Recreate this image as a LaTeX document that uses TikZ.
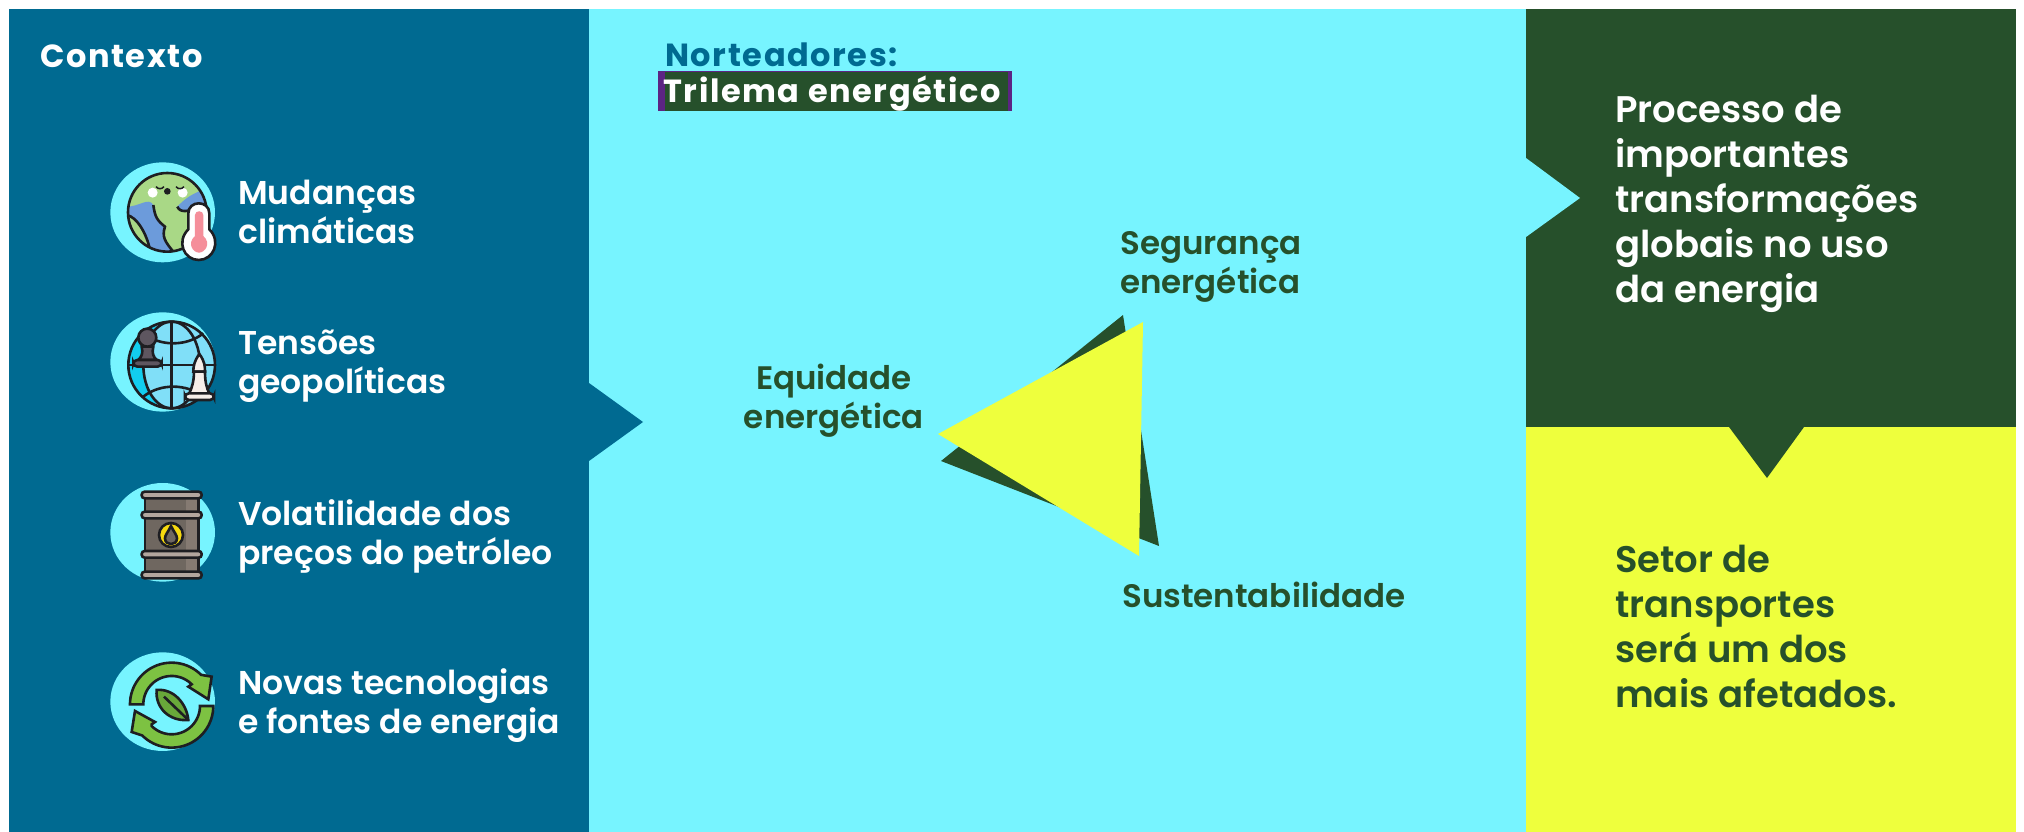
\documentclass[tikz,border=0pt]{standalone}
\usepackage{fontspec}
\setmainfont{Poppins}[UprightFont=* SemiBold,BoldFont=* Bold]
\definecolor{petrol}{HTML}{006A91}
\definecolor{skycyan}{HTML}{77F4FF}
\definecolor{forest}{HTML}{26502B}
\definecolor{lime}{HTML}{EEFF3D}
\definecolor{violet}{HTML}{5C2483}
\definecolor{ink}{HTML}{1E1E22}
\definecolor{earthgreen}{HTML}{A9D886}
\definecolor{earthblue}{HTML}{6C9BDB}
\definecolor{fever}{HTML}{F58E9A}
\definecolor{globesky}{HTML}{80DFF8}
\definecolor{globedeep}{HTML}{12CDEF}
\definecolor{pawn}{HTML}{5E5660}
\definecolor{bishop}{HTML}{F6EEE9}
\definecolor{drum}{HTML}{6F6760}
\definecolor{drumlight}{HTML}{857A72}
\definecolor{drumring}{HTML}{B3A69E}
\definecolor{seal}{HTML}{F6D90F}
\definecolor{cyclegreen}{HTML}{7DC242}
\definecolor{leafgreen}{HTML}{69A83A}
\tikzstyle{item} = [anchor=west, align=left, inner sep=0pt, text=white, font=\fontsize{33}{39}\selectfont]
\tikzstyle{pillar} = [align=left, inner sep=0pt, text=forest, font=\fontsize{32.5}{39}\selectfont]
\tikzstyle{claim} = [anchor=west, align=left, inner sep=0pt, font=\fontsize{37}{45}\selectfont]
\tikzstyle{heading} = [anchor=west, inner sep=0pt, font=\bfseries\fontsize{32}{34}\selectfont\addfontfeature{LetterSpace=5}]
\tikzstyle{iconone} = [shift={(90,150)}, x=.3333pt, y=-.3333pt, line width=2.6pt, draw=ink]
\tikzstyle{icontwo} = [shift={(90,470)}, x=.3333pt, y=-.3333pt, line width=2.6pt, draw=ink]

\begin{document}
\begin{tikzpicture}[x=1pt, y=-1pt]
	\useasboundingbox (0,0) rectangle (2024,832);
	% panels
	\fill[skycyan] (589,9) rectangle (1526,832);
	\fill[petrol] (9,9) rectangle (589,832);
	\fill[forest] (1526,9) rectangle (2016,427);
	\fill[lime] (1526,427) rectangle (2016,832);
	\fill[petrol] (589,383) -- (643,422) -- (589,461) -- cycle;
	\fill[skycyan] (1526,158) -- (1580,198) -- (1526,237) -- cycle;
	\fill[forest] (1729,427) -- (1804,427) -- (1767,478) -- cycle;
	% triangles
	\fill[forest] (1123,315) -- (941,461) -- (1159,546) -- cycle;
	\fill[lime] (938,434) -- (1143,322) -- (1139,556) -- cycle;

	% texts
	\node[heading, text=white] at (40,56) (contexto) {Contexto};
	\node[item] at (238,212) (clima) {Mudanças\\climáticas};
	\node[item] at ([yshift=-154pt]clima.west) (tensoes) {Tensões\\geopolíticas};
	\node[item] at ([yshift=-170pt]tensoes.west) (petroleo) {Volatilidade dos\\preços do petróleo};
	\node[item] at ([yshift=-170pt]petroleo.west) (tecnologias) {Novas tecnologias\\e fontes de energia};

	\node[heading, text=petrol] at (665,55) (norteadores) {Norteadores:};
	\fill[violet] (658,71) rectangle (1012,111);
	\fill[forest] (665,72) rectangle (1008,111);
	\node[heading, text=white] at (663,94) (trilema) {Trilema energético};

	\node[pillar, anchor=west] at (1120,267) (seguranca) {Segurança\\energética};
	\node[pillar, align=center] at (834,401) (equidade) {Equidade\\energética};
	\node[pillar, anchor=west] at (1122,595) (sustentabilidade) {Sustentabilidade};

	\node[claim, text=white] at (1615,204) (processo) {Processo de\\importantes\\transformações\\globais no uso\\da energia};
	\node[claim, text=forest] at (1615,626) (setor) {Setor de\\transportes\\será um dos\\mais afetados.};

	% globe and thermometer
	\begin{scope}[iconone]
		\fill[skycyan] (218,187) ellipse (157 and 150);
		\fill[skycyan] (218,636) ellipse (157 and 149);
		\begin{scope}
			\clip (232,187) circle (118);
			\fill[earthgreen] (232,187) circle (118);
			\fill[earthblue] (110,170) .. controls (150,170) and (175,140) .. (190,165) .. controls (195,200) and (200,210) .. (225,230) .. controls (215,260) and (225,275) .. (250,305) -- (180,300) .. controls (170,250) and (140,200) .. (110,195) -- cycle;
			\fill[earthblue] (355,110) .. controls (320,130) and (300,130) .. (262,170) .. controls (270,190) and (300,185) .. (320,170) -- (360,160) -- cycle;
			\draw (110,195) .. controls (140,200) and (170,250) .. (180,300);
			\draw (190,165) .. controls (195,200) and (200,210) .. (225,230) .. controls (215,260) and (225,275) .. (250,305);
			\draw (262,170) .. controls (270,190) and (300,185) .. (320,170);
		\end{scope}
		\draw (232,187) circle (118);
		\fill[white] (188,128) circle (15);
		\fill[white] (278,128) circle (15);
		\draw[line width=1.5pt] (198,110) .. controls (205,118) and (215,118) .. (222,110);
		\draw[line width=1.5pt] (258,110) .. controls (265,118) and (275,118) .. (282,110);
		\fill[ink] (232,124) circle (10);
		\filldraw[fill=white] (295,190) .. controls (295,150) and (358,150) .. (358,190) -- (358,238) .. controls (395,275) and (370,330) .. (326,330) .. controls (282,330) and (258,275) .. (295,238) -- cycle;
		\fill[fever] (315,195) .. controls (315,180) and (340,180) .. (340,195) -- (340,258) .. controls (365,280) and (345,308) .. (327,308) .. controls (309,308) and (290,280) .. (315,258) -- cycle;

		% chess globe
		\begin{scope}
			\clip (245,645) circle (130);
			\fill[globesky] (245,645) circle (130);
			\fill[globedeep] (115,560) -- (210,515) .. controls (150,580) and (140,690) .. (210,775) -- (115,775) -- cycle;
		\end{scope}
		\draw (245,645) circle (130);
		\draw (245,645) ellipse (85 and 130);
		\draw (245,515) -- (245,775);
		\draw (115,645) -- (375,645);
		\draw (160,550) .. controls (210,590) and (290,590) .. (340,550);
		\draw (160,740) .. controls (210,700) and (290,700) .. (340,740);
		\filldraw[fill=pawn] (155,590) .. controls (160,610) and (155,620) .. (145,630) -- (200,630) .. controls (190,620) and (185,610) .. (190,590) -- cycle;
		\filldraw[fill=pawn] (172,563) circle (27);
		\filldraw[fill=pawn, rounded corners=4pt] (130,630) rectangle (215,650);
		\filldraw[fill=bishop] (328,612) .. controls (345,635) and (345,650) .. (345,665) -- (310,665) .. controls (310,650) and (312,635) .. (328,612) -- cycle;
		\filldraw[fill=bishop] (312,665) -- (345,665) .. controls (345,695) and (350,715) .. (358,730) -- (298,730) .. controls (305,715) and (312,695) .. (312,665) -- cycle;
		\filldraw[fill=bishop, rounded corners=4pt] (285,730) rectangle (372,750);
	\end{scope}

	% barrel and leaf
	\begin{scope}[icontwo]
		\fill[skycyan] (218,187) ellipse (157 and 148);
		\fill[skycyan] (218,695) ellipse (157 and 148);
		\filldraw[fill=drum] (165,75) rectangle (325,315);
		\fill[drumlight] (288,85) rectangle (322,305);
		\foreach \ringy in {75,135,253,315}{
			\filldraw[fill=drumring, rounded corners=3pt] (155,\ringy-10) rectangle (335,\ringy+10);
		}
		\filldraw[fill=seal] (243,195) circle (36);
		\filldraw[fill=drum] (243,168) .. controls (235,185) and (225,195) .. (225,205) .. controls (225,228) and (261,228) .. (261,205) .. controls (261,195) and (251,185) .. (243,168) -- cycle;

		\filldraw[fill=cyclegreen] plot[smooth, domain=180:45, samples=30] ({245+125*cos(\x)},{703-125*sin(\x)}) -- (365,620) -- (355,688) -- (295,650) -- (305,643) -- plot[smooth, domain=45:180, samples=30] ({245+85*cos(\x)},{703-85*sin(\x)}) -- cycle;
		\filldraw[fill=cyclegreen] plot[smooth, domain=0:-135, samples=30] ({245+125*cos(\x)},{708-125*sin(\x)}) -- (125,786) -- (135,723) -- (195,756) -- (185,763) -- plot[smooth, domain=-135:0, samples=30] ({245+85*cos(\x)},{708-85*sin(\x)}) -- cycle;
		\filldraw[fill=leafgreen] (200,660) .. controls (250,655) and (290,700) .. (295,750) .. controls (240,755) and (195,715) .. (200,660) -- cycle;
		\draw (222,680) -- (295,750);
	\end{scope}
\end{tikzpicture}
\end{document}
